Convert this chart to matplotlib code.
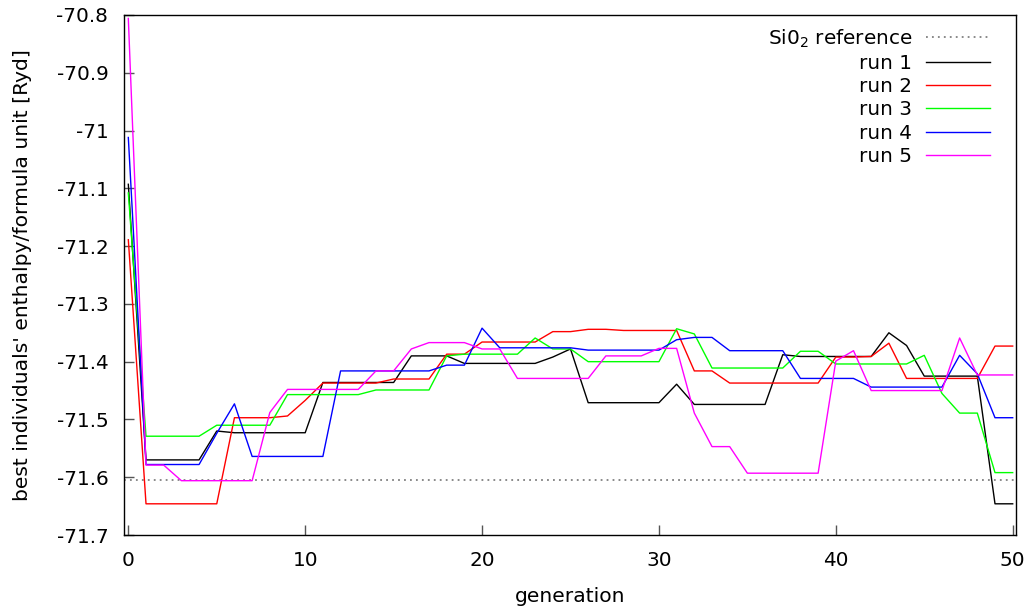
import matplotlib
matplotlib.use("Agg")
from matplotlib import pyplot as plt
import numpy as np

# generation index and best enthalpy per formula unit for each GA run
generation = np.arange(51)

run1 = [-71.093, -71.570, -71.570, -71.570, -71.570, -71.520, -71.523, -71.523, -71.523, -71.523,
        -71.523, -71.436, -71.436, -71.436, -71.436, -71.436, -71.390, -71.390, -71.390, -71.403,
        -71.403, -71.403, -71.403, -71.403, -71.392, -71.378, -71.471, -71.471, -71.471, -71.471,
        -71.471, -71.439, -71.474, -71.474, -71.474, -71.474, -71.474, -71.388, -71.391, -71.391,
        -71.391, -71.391, -71.391, -71.350, -71.372, -71.425, -71.425, -71.425, -71.425, -71.646,
        -71.646]
run2 = [-71.189, -71.646, -71.646, -71.646, -71.646, -71.646, -71.497, -71.497, -71.497, -71.494,
        -71.467, -71.437, -71.437, -71.437, -71.437, -71.430, -71.430, -71.430, -71.387, -71.387,
        -71.366, -71.366, -71.366, -71.366, -71.348, -71.348, -71.344, -71.344, -71.346, -71.346,
        -71.346, -71.346, -71.416, -71.416, -71.437, -71.437, -71.437, -71.437, -71.437, -71.437,
        -71.392, -71.392, -71.391, -71.368, -71.429, -71.429, -71.429, -71.429, -71.429, -71.373,
        -71.373]
run3 = [-71.108, -71.529, -71.529, -71.529, -71.529, -71.510, -71.510, -71.510, -71.510, -71.457,
        -71.457, -71.457, -71.457, -71.457, -71.449, -71.449, -71.449, -71.449, -71.390, -71.387,
        -71.387, -71.387, -71.387, -71.359, -71.378, -71.378, -71.400, -71.400, -71.400, -71.400,
        -71.400, -71.343, -71.352, -71.411, -71.411, -71.411, -71.411, -71.411, -71.382, -71.382,
        -71.404, -71.404, -71.404, -71.404, -71.404, -71.389, -71.455, -71.489, -71.489, -71.592,
        -71.592]
run4 = [-71.012, -71.578, -71.578, -71.578, -71.578, -71.524, -71.473, -71.564, -71.564, -71.564,
        -71.564, -71.564, -71.416, -71.416, -71.416, -71.416, -71.416, -71.416, -71.406, -71.406,
        -71.342, -71.376, -71.376, -71.376, -71.376, -71.376, -71.380, -71.380, -71.380, -71.380,
        -71.380, -71.362, -71.358, -71.358, -71.381, -71.381, -71.381, -71.381, -71.429, -71.429,
        -71.429, -71.429, -71.444, -71.444, -71.444, -71.444, -71.444, -71.389, -71.421, -71.497,
        -71.497]
run5 = [-70.806, -71.579, -71.579, -71.606, -71.606, -71.606, -71.606, -71.606, -71.488, -71.448,
        -71.448, -71.448, -71.448, -71.448, -71.416, -71.416, -71.378, -71.367, -71.367, -71.367,
        -71.378, -71.378, -71.429, -71.429, -71.429, -71.429, -71.429, -71.390, -71.390, -71.390,
        -71.377, -71.377, -71.489, -71.547, -71.547, -71.593, -71.593, -71.593, -71.593, -71.593,
        -71.399, -71.381, -71.450, -71.450, -71.450, -71.450, -71.450, -71.359, -71.423, -71.423,
        -71.423]

sio2_ref = -71.604

runs = [run1, run2, run3, run4, run5]
run_labels = ["run 1", "run 2", "run 3", "run 4", "run 5"]
run_colors = ["#000000", "#ff0000", "#00ff00", "#0000ff", "#ff00ff"]

yticks = [-70.8, -70.9, -71.0, -71.1, -71.2, -71.3, -71.4, -71.5, -71.6, -71.7]
ytick_labels = ["-70.8", "-70.9", "-71", "-71.1", "-71.2", "-71.3", "-71.4", "-71.5", "-71.6", "-71.7"]
xticks = [0, 10, 20, 30, 40, 50]

plt.rcParams["font.family"] = "DejaVu Sans"
fs = 14.4

fig = plt.figure(figsize=(10.32, 6.12), dpi=100)
ax = fig.add_axes([0.1204, 0.1258, 0.8638, 0.8497])

ax.axhline(sio2_ref, color="#808080", lw=1.3, ls=(0, (1, 2.3)), label="Si0$_2$ reference")
for vals, lab, col in zip(runs, run_labels, run_colors):
    ax.plot(generation, vals, color=col, lw=1.0, label=lab)

ax.set_xlim(-0.23, 50.17)
ax.set_ylim(-71.7, -70.8)
ax.set_xticks(xticks)
ax.set_yticks(yticks)
ax.set_yticklabels(ytick_labels)
ax.tick_params(direction="in", length=7, width=1.0, color="#555555",
               labelsize=fs, pad=11.5, top=False, right=False)
for sp in ax.spines.values():
    sp.set_linewidth(1.0)

ax.set_xlabel("generation", fontsize=fs + 0.2)
ax.set_ylabel("best individuals' enthalpy/formula unit [Ryd]", fontsize=fs + 0.2)
ax.xaxis.set_label_coords(0.5, -0.100)
ax.yaxis.set_label_coords(-0.1035, 0.5)

leg = ax.legend(loc="upper right", bbox_to_anchor=(0.9712, 0.976), markerfirst=False,
                frameon=False, fontsize=fs, handlelength=3.2, handletextpad=0.7,
                labelspacing=0.21, borderaxespad=0, borderpad=0)

fig.savefig("out.png", dpi=100)
